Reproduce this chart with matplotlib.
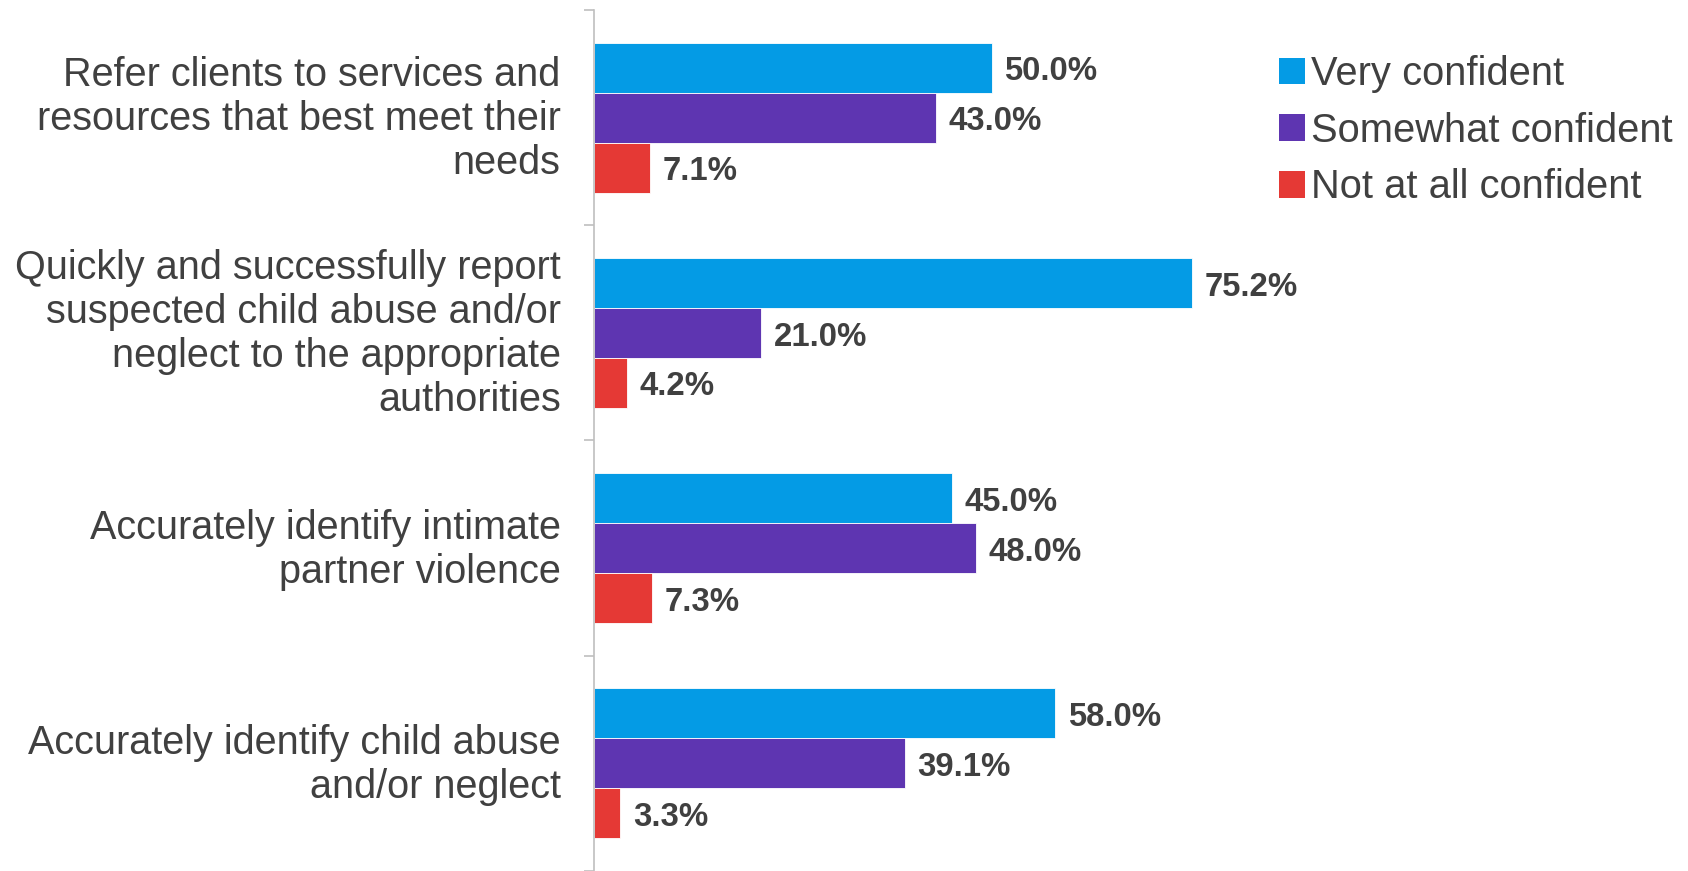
import matplotlib
matplotlib.use("Agg")
import matplotlib.pyplot as plt
import matplotlib.transforms as mtransforms
from matplotlib.patches import Patch
import numpy as np

# ── Data ─────────────────────────────────────────────────────────────────────
categories = [
    "Refer clients to services and\nresources that best meet their\nneeds",
    "Quickly and successfully report\nsuspected child abuse and/or\nneglect to the appropriate\nauthorities",
    "Accurately identify intimate\npartner violence",
    "Accurately identify child abuse\nand/or neglect",
]
series_names = ["Very confident", "Somewhat confident", "Not at all confident"]
very_confident = [50.0, 75.2, 45.0, 58.0]
somewhat_confident = [43.0, 21.0, 48.0, 39.1]
not_confident = [7.1, 4.2, 7.3, 3.3]

# ── Style ────────────────────────────────────────────────────────────────────
COLORS = ["#049BE5", "#5E35B1", "#E53935"]
C_TEXT = "#404040"
C_AXIS = "#BFBFBF"
FONT = "Liberation Sans"
FS_CAT = 28.5
FS_LEG = 28.7
FS_VAL = 23.7
BAR_H = 0.232

fig = plt.figure(figsize=(16.88, 8.71), dpi=100, facecolor="white")
ax = fig.add_axes([594 / 1688, 0.0, 1 - 594 / 1688, 1 - 10 / 871])

y = np.arange(len(categories))
offsets = [-BAR_H, 0.0, BAR_H]
values = [very_confident, somewhat_confident, not_confident]

for vals, off, col, name in zip(values, offsets, COLORS, series_names):
    bars = ax.barh(y + off, vals, height=BAR_H, color=col, label=name,
                   edgecolor="white", linewidth=0.6)
    for b, v in zip(bars, vals):
        ax.annotate(f"{v:.1f}%", (b.get_width(), b.get_y() + b.get_height() / 2),
                    xytext=(9, -3), textcoords="offset points",
                    ha="left", va="center", fontsize=FS_VAL, fontweight="bold",
                    fontfamily=FONT, color=C_TEXT)

ax.set_xlim(0, 137.6)
ax.set_ylim(len(categories) - 0.5, -0.5)

# spines / ticks
for s in ["top", "right", "bottom"]:
    ax.spines[s].set_visible(False)
ax.spines["left"].set_color(C_AXIS)
ax.spines["left"].set_linewidth(1.2)
ax.set_xticks([])

ax.set_yticks(y)
ax.set_yticklabels(categories, fontsize=FS_CAT, fontfamily=FONT, color=C_TEXT,
                   linespacing=1.2)
ax.tick_params(axis="y", which="major", length=0, pad=24)
# nudge labels up a little so they sit centred like the original
shift = mtransforms.ScaledTranslation(0, 4 / 72, fig.dpi_scale_trans)
for lbl in ax.get_yticklabels():
    lbl.set_transform(lbl.get_transform() + shift)
ax.set_yticks(np.arange(-0.5, len(categories) + 0.5, 1.0), minor=True)
ax.tick_params(axis="y", which="minor", length=7, width=1.2, color=C_AXIS,
               direction="out")

handles = [Patch(facecolor=c, edgecolor="none") for c in COLORS]
leg = fig.legend(handles, series_names, loc="upper left",
                 bbox_to_anchor=(1279 / 1688, 1 - 55 / 871),
                 frameon=False, prop={"family": FONT, "size": FS_LEG},
                 handlelength=0.65, handleheight=0.65, handletextpad=0.15,
                 labelspacing=0.47, borderaxespad=0, borderpad=0)
for t in leg.get_texts():
    t.set_color(C_TEXT)

fig.savefig("out.png", dpi=100, facecolor="white")
